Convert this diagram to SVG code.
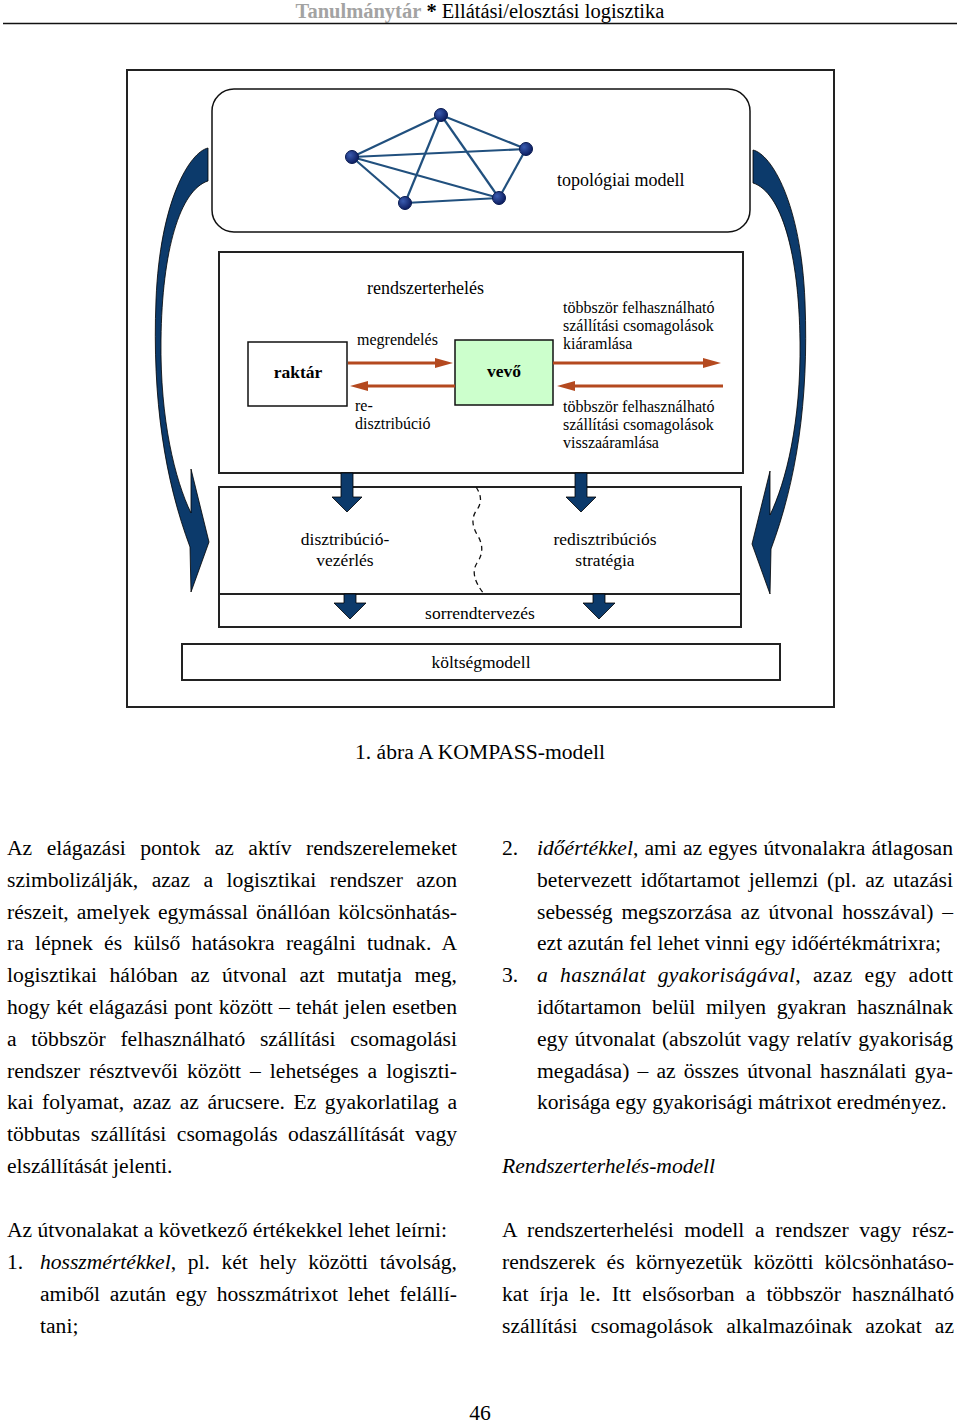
<svg xmlns="http://www.w3.org/2000/svg" width="960" height="1427" viewBox="0 0 960 1427">
<defs>
<style>
text{font-family:"Liberation Serif","Times New Roman",serif;fill:#000}
.hd{font-size:20.5px}
.lab{font-size:16px}
.lab2{font-size:17.5px}
.bold{font-weight:bold;font-size:17.5px}
.body{font-size:21.6px}
.it{font-style:italic}
.box{fill:#fff;stroke:#222;stroke-width:2}
.thin{fill:none;stroke:#111;stroke-width:1.5}
.edge{stroke:#21507e;stroke-width:2.2;fill:none}
.nd{fill:url(#ng);stroke:#081a50;stroke-width:1}
.flow{stroke:#b4491f;stroke-width:3;fill:none;marker-end:url(#ah)}
.blk{fill:#0c3a6b;stroke:#000;stroke-width:0.8}
</style>
<radialGradient id="ng" cx="0.35" cy="0.35" r="0.7">
<stop offset="0" stop-color="#3a5cb0"/>
<stop offset="1" stop-color="#0a1a5c"/>
</radialGradient>
<marker id="ah" viewBox="0 0 18 10" markerUnits="userSpaceOnUse" markerWidth="18" markerHeight="10" refX="1" refY="5" orient="auto">
<path d="M0,0 L18,5 L0,10 z" fill="#b4491f"/>
</marker>
<path id="curveL" d="M208,148 C190,152 160,200 156,300 C152,400 165,480 190,547 L191,592 L209,542 L191,469 L191,513 C175,480 160,420 161,340 C162,250 180,190 208,181 Z"/>
<path id="dn" d="M-6,0 L6,0 L6,24 L15,24 L0,39 L-15,24 L-6,24 Z"/>
<path id="dn2" d="M-6,0 L6,0 L6,9 L16,9 L0,25 L-16,9 L-6,9 Z"/>
</defs>

<g id="header">
<text class="hd" x="480" y="18" text-anchor="middle"><tspan font-weight="bold" style="fill:#a3a3a3">Tanulmánytár</tspan> <tspan font-weight="bold">*</tspan> Ellátási/elosztási logisztika</text>
<line x1="3" y1="23.5" x2="957" y2="23.5" stroke="#111" stroke-width="1.6"/>
</g>

<g id="frame">
<rect x="127" y="70" width="707" height="637" class="box"/>
</g>

<g id="topology">
<rect x="212" y="89" width="538" height="143" rx="22" ry="22" class="thin" style="fill:#fff"/>
<g id="network">
<line class="edge" x1="352" y1="157" x2="441" y2="115"/>
<line class="edge" x1="441" y1="115" x2="526" y2="149"/>
<line class="edge" x1="352" y1="157" x2="526" y2="149"/>
<line class="edge" x1="352" y1="157" x2="405" y2="203"/>
<line class="edge" x1="352" y1="157" x2="499" y2="198"/>
<line class="edge" x1="441" y1="115" x2="405" y2="203"/>
<line class="edge" x1="441" y1="115" x2="499" y2="198"/>
<line class="edge" x1="526" y1="149" x2="499" y2="198"/>
<line class="edge" x1="405" y1="203" x2="499" y2="198"/>
<circle class="nd" cx="441" cy="115" r="6.5"/>
<circle class="nd" cx="526" cy="149" r="6.5"/>
<circle class="nd" cx="352" cy="157" r="6.5"/>
<circle class="nd" cx="405" cy="203" r="6.5"/>
<circle class="nd" cx="499" cy="198" r="6.5"/>
</g>
<text class="lab2" x="557" y="186" style="font-size:18px">topológiai modell</text>
</g>

<g id="load-box">
<rect x="219" y="252" width="524" height="221" class="box"/>
<text class="lab2" x="367" y="294" style="font-size:18px">rendszerterhelés</text>
<text class="lab" x="357" y="345">megrendelés</text>
<text class="lab" x="355" y="411">re-</text>
<text class="lab" x="355" y="429">disztribúció</text>
<text class="lab" x="563" y="313">többször felhasználható</text>
<text class="lab" x="563" y="331">szállítási csomagolások</text>
<text class="lab" x="563" y="349">kiáramlása</text>
<text class="lab" x="563" y="412">többször felhasználható</text>
<text class="lab" x="563" y="430">szállítási csomagolások</text>
<text class="lab" x="563" y="448">visszaáramlása</text>
</g>

<g id="raktar">
<rect x="248" y="342" width="99" height="64" fill="#fff" stroke="#111" stroke-width="1.5"/>
<text class="bold" x="298" y="378" text-anchor="middle">raktár</text>
</g>

<g id="vevo">
<rect x="455" y="340" width="98" height="65" fill="#ccffcc" stroke="#111" stroke-width="1.5"/>
<text class="bold" x="504" y="377" text-anchor="middle">vevő</text>
</g>

<g id="strategy-box">
<rect x="219" y="487" width="522" height="140" class="box"/>
<line x1="219" y1="594" x2="741" y2="594" stroke="#222" stroke-width="1.8"/>
<path d="M476,487 Q485,500 476,511 Q469,522 478,536 Q486,550 477,563 Q469,575 484,594" fill="none" stroke="#111" stroke-width="1.3" stroke-dasharray="5,4"/>
<text class="lab2" x="345" y="545" text-anchor="middle">disztribúció-</text>
<text class="lab2" x="345" y="566" text-anchor="middle">vezérlés</text>
<text class="lab2" x="605" y="545" text-anchor="middle">redisztribúciós</text>
<text class="lab2" x="605" y="566" text-anchor="middle">stratégia</text>
<text class="lab2" x="480" y="619" text-anchor="middle">sorrendtervezés</text>
</g>

<g id="cost-box">
<rect x="182" y="644" width="598" height="36" class="box"/>
<text class="lab2" x="481" y="668" text-anchor="middle">költségmodell</text>
</g>

<g id="connectors">
<line class="flow" x1="348" y1="363" x2="436" y2="363"/>
<line class="flow" x1="455" y1="386" x2="367" y2="386"/>
<line class="flow" x1="553" y1="363" x2="704" y2="363"/>
<line class="flow" x1="723" y1="386" x2="574" y2="386"/>
<use href="#dn" class="blk" transform="translate(347,473)"/>
<use href="#dn" class="blk" transform="translate(581,473)"/>
<use href="#dn2" class="blk" transform="translate(350,594)"/>
<use href="#dn2" class="blk" transform="translate(599,594)"/>
<use href="#curveL" class="blk"/>
<use href="#curveL" class="blk" transform="translate(961,2) scale(-1,1)"/>
</g>

<g id="caption">
<text class="body" x="480" y="759" text-anchor="middle">1. ábra A KOMPASS-modell</text>
</g>

<g id="left-column">
<text class="body" x="7" y="855" textLength="450" lengthAdjust="spacing" style="word-spacing:9.1px">Az elágazási pontok az aktív rendszerelemeket</text>
<text class="body" x="7" y="886.8" textLength="450" lengthAdjust="spacing" style="word-spacing:8px">szimbolizálják, azaz a logisztikai rendszer azon</text>
<text class="body" x="7" y="918.6" textLength="450" lengthAdjust="spacing" style="word-spacing:2.6px">részeit, amelyek egymással önállóan kölcsönhatás-</text>
<text class="body" x="7" y="950.4" textLength="450" lengthAdjust="spacing" style="word-spacing:5.8px">ra lépnek és külső hatásokra reagálni tudnak. A</text>
<text class="body" x="7" y="982.2" textLength="450" lengthAdjust="spacing" style="word-spacing:7.1px">logisztikai hálóban az útvonal azt mutatja meg,</text>
<text class="body" x="7" y="1014" textLength="450" lengthAdjust="spacing" style="word-spacing:0.8px">hogy két elágazási pont között – tehát jelen esetben</text>
<text class="body" x="7" y="1045.8" textLength="450" lengthAdjust="spacing" style="word-spacing:9.3px">a többször felhasználható szállítási csomagolási</text>
<text class="body" x="7" y="1077.6" textLength="450" lengthAdjust="spacing" style="word-spacing:3.6px">rendszer résztvevői között – lehetséges a logiszti-</text>
<text class="body" x="7" y="1109.4" textLength="450" lengthAdjust="spacing" style="word-spacing:3.2px">kai folyamat, azaz az árucsere. Ez gyakorlatilag a</text>
<text class="body" x="7" y="1141.2" textLength="450" lengthAdjust="spacing" style="word-spacing:5.1px">többutas szállítási csomagolás odaszállítását vagy</text>
<text class="body" x="7" y="1173">elszállítását jelenti.</text>

<text class="body" x="7" y="1237">Az útvonalakat a következő értékekkel lehet leírni:</text>
<text class="body" x="7" y="1269">1.</text>
<text class="body" x="40" y="1269" textLength="417" lengthAdjust="spacing" style="word-spacing:6.2px"><tspan class="it">hosszmértékkel</tspan>, pl. két hely közötti távolság,</text>
<text class="body" x="40" y="1301" textLength="417" lengthAdjust="spacing" style="word-spacing:4.3px">amiből azután egy hosszmátrixot lehet felállí-</text>
<text class="body" x="40" y="1333">tani;</text>
</g>

<g id="right-column">
<text class="body" x="502" y="855">2.</text>
<text class="body" x="537" y="855" textLength="416" lengthAdjust="spacing" style="word-spacing:0.7px"><tspan class="it">időértékkel</tspan>, ami az egyes útvonalakra átlagosan</text>
<text class="body" x="537" y="886.8" textLength="416" lengthAdjust="spacing" style="word-spacing:3.3px">betervezett időtartamot jellemzi (pl. az utazási</text>
<text class="body" x="537" y="918.6" textLength="416" lengthAdjust="spacing" style="word-spacing:3.4px">sebesség megszorzása az útvonal hosszával) –</text>
<text class="body" x="537" y="950.4">ezt azután fel lehet vinni egy időértékmátrixra;</text>
<text class="body" x="502" y="982.2">3.</text>
<text class="body" x="537" y="982.2" textLength="416" lengthAdjust="spacing" style="word-spacing:6.2px"><tspan class="it">a használat gyakoriságával</tspan>, azaz egy adott</text>
<text class="body" x="537" y="1014" textLength="416" lengthAdjust="spacing" style="word-spacing:5.3px">időtartamon belül milyen gyakran használnak</text>
<text class="body" x="537" y="1045.8" textLength="416" lengthAdjust="spacing" style="word-spacing:1.3px">egy útvonalat (abszolút vagy relatív gyakoriság</text>
<text class="body" x="537" y="1077.6" textLength="416" lengthAdjust="spacing" style="word-spacing:2.75px">megadása) – az összes útvonal használati gya-</text>
<text class="body" x="537" y="1109.4">korisága egy gyakorisági mátrixot eredményez.</text>
<text class="body it" x="502" y="1173">Rendszerterhelés-modell</text>

<text class="body" x="502" y="1237" textLength="452" lengthAdjust="spacing" style="word-spacing:5.25px">A rendszerterhelési modell a rendszer vagy rész-</text>
<text class="body" x="502" y="1269" textLength="452" lengthAdjust="spacing" style="word-spacing:5.6px">rendszerek és környezetük közötti kölcsönhatáso-</text>
<text class="body" x="502" y="1301" textLength="452" lengthAdjust="spacing" style="word-spacing:5.8px">kat írja le. Itt elsősorban a többször használható</text>
<text class="body" x="502" y="1333" textLength="452" lengthAdjust="spacing" style="word-spacing:7.7px">szállítási csomagolások alkalmazóinak azokat az</text>
</g>

<g id="footer">
<text class="body" x="480" y="1420" text-anchor="middle">46</text>
</g>
</svg>
